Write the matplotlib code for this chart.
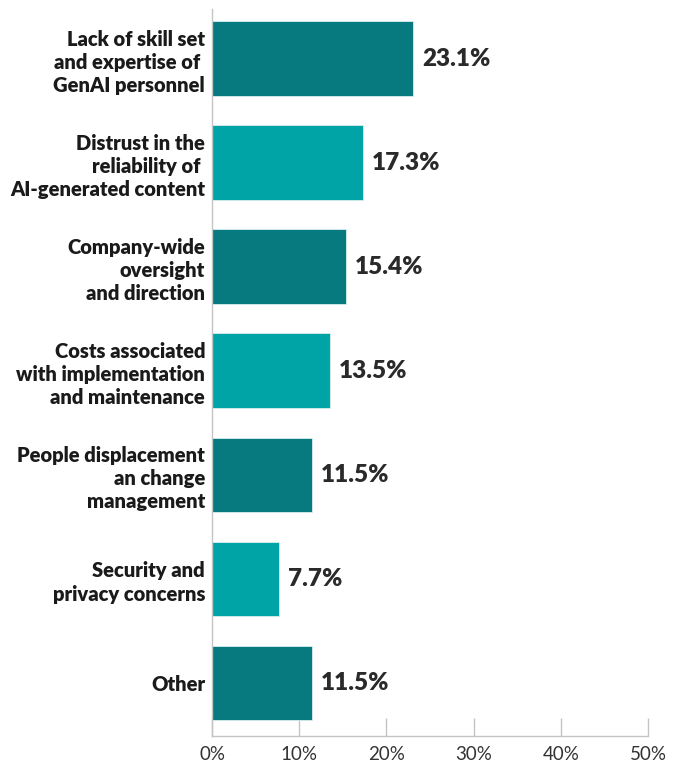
import matplotlib
matplotlib.use("Agg")
import matplotlib.pyplot as plt
from matplotlib.ticker import FuncFormatter

categories = [
    "Lack of skill set\nand expertise of \nGenAI personnel",
    "Distrust in the\nreliability of \nAI-generated content",
    "Company-wide\noversight\nand direction",
    "Costs associated\nwith implementation\nand maintenance",
    "People displacement\nan change\nmanagement",
    "Security and\nprivacy concerns",
    "Other",
]
values = [23.1, 17.3, 15.4, 13.5, 11.5, 7.7, 11.5]
value_labels = ["23.1%", "17.3%", "15.4%", "13.5%", "11.5%", "7.7%", "11.5%"]
x_ticks = [0, 10, 20, 30, 40, 50]

DARK = "#077A80"
LIGHT = "#00A3A6"
colors = [DARK if i % 2 == 0 else LIGHT for i in range(len(values))]

plt.rcParams["font.family"] = ["Lato", "DejaVu Sans"]

fig = plt.figure(figsize=(6.85, 7.65), dpi=100)
ax = fig.add_axes([212 / 685, 1 - 736 / 765, (648 - 212) / 685, (736 - 9) / 765])

pos = list(range(len(values)))
ax.barh(pos, values, height=0.72, color=colors, edgecolor="#d8eeee", linewidth=0.6, zorder=2)

for p, v, lab in zip(pos, values, value_labels):
    ax.annotate(lab, (v, p), xytext=(6.5, 0), textcoords="offset points",
                ha="left", va="center", fontsize=17.5, fontweight="heavy", color="#2a2a2a")

ax.set_xlim(0, 50)
ax.set_ylim(6.51, -0.48)
ax.set_yticks(pos)
ax.set_yticklabels(categories, fontsize=14.5, fontweight="heavy", color="#1a1a1a",
                   linespacing=1.27)
ax.tick_params(axis="y", length=0, pad=5)

ax.set_xticks(x_ticks)
ax.xaxis.set_major_formatter(FuncFormatter(lambda x, _: f"{x:.0f}%"))
ax.tick_params(axis="x", direction="in", length=13, width=1, color="#c4c4c4",
               labelsize=13.5, labelcolor="#333333", pad=7)

for s in ["top", "right"]:
    ax.spines[s].set_visible(False)
for s in ["left", "bottom"]:
    ax.spines[s].set_color("#c4c4c4")
    ax.spines[s].set_linewidth(1)

fig.savefig("out.png", dpi=100)
